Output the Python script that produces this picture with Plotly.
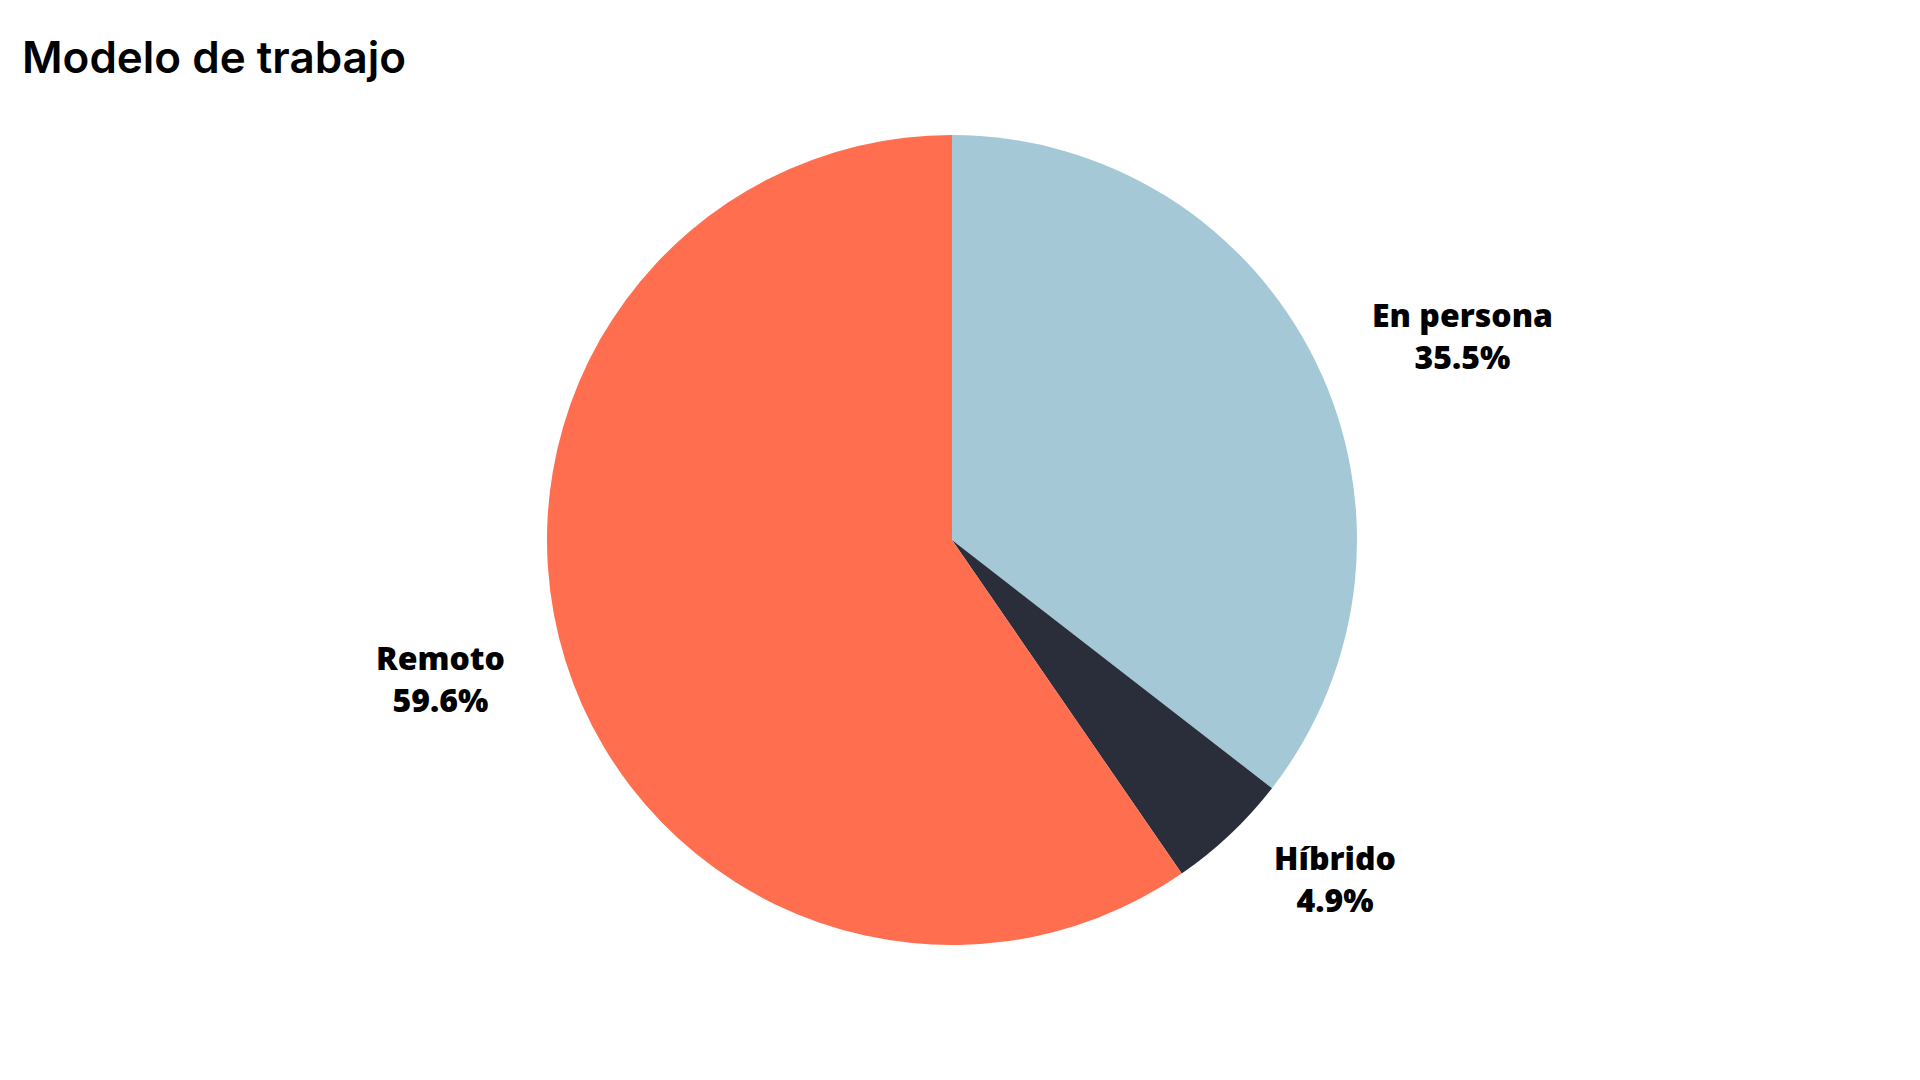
"""
plot.py

Круговая диаграмма: модель работы.
"""

import math

import plotly.graph_objects as go


# =====================================================
# Данные

categories = ["En persona", "Híbrido", "Remoto"]
shares = [35.5, 4.9, 59.6]
colors = ["#A4C8D6", "#292E3A", "#FF6E4F"]

title_text = "Modelo de trabajo"

# =====================================================
# Геометрия (пиксели фигуры; страница добавляет отступ body ~8px)

WIDTH = 1920
HEIGHT = 1080

center_x = 944
center_y = 532
radius = 405

label_distance = 1.15


def create_pie(fig: go.Figure) -> None:

    fig.add_trace(
        go.Pie(
            labels=categories,
            values=shares,
            sort=False,
            direction="clockwise",
            rotation=0,
            textinfo="none",
            hoverinfo="label+percent",
            marker=dict(
                colors=colors,
                line=dict(width=0),
            ),
            domain=dict(
                x=[(center_x - radius) / WIDTH, (center_x + radius) / WIDTH],
                y=[
                    (HEIGHT - center_y - radius) / HEIGHT,
                    (HEIGHT - center_y + radius) / HEIGHT,
                ],
            ),
            showlegend=False,
        )
    )


# =====================================================

def create_labels(fig: go.Figure) -> None:
    """
    Подписи снаружи круга, как в matplotlib (labeldistance).
    """

    total = sum(shares)
    start = 0.0

    for name, value in zip(categories, shares):

        middle = (start + value / 2) / total * 2 * math.pi
        start += value

        dx = math.sin(middle) * radius * label_distance
        dy = math.cos(middle) * radius * label_distance

        fig.add_annotation(
            x=(center_x + dx) / WIDTH,
            y=(HEIGHT - center_y + dy) / HEIGHT,
            xref="paper",
            yref="paper",
            xanchor="left" if dx >= 0 else "right",
            yanchor="middle",
            align="center",
            showarrow=False,
            text=f"{name}<br>{value / total * 100:.1f}%",
            font=dict(
                family="Open Sans",
                size=32,
                color="#000000",
                weight=800,
            ),
        )


# =====================================================

def apply_layout(fig: go.Figure) -> None:

    fig.update_layout(
        width=WIDTH,
        height=HEIGHT,
        paper_bgcolor="#FFFFFF",
        plot_bgcolor="#FFFFFF",
        margin=dict(l=0, r=0, t=0, b=0),
        title=dict(
            text=title_text,
            x=14 / WIDTH,
            xanchor="left",
            xref="container",
            y=1 - 50 / HEIGHT,
            yanchor="middle",
            yref="container",
            font=dict(
                family="Inter",
                size=44,
                color="#000000",
                weight=600,
            ),
        ),
    )


fig = go.Figure()

create_pie(fig)
create_labels(fig)
apply_layout(fig)

fig.write_html("out.html")
